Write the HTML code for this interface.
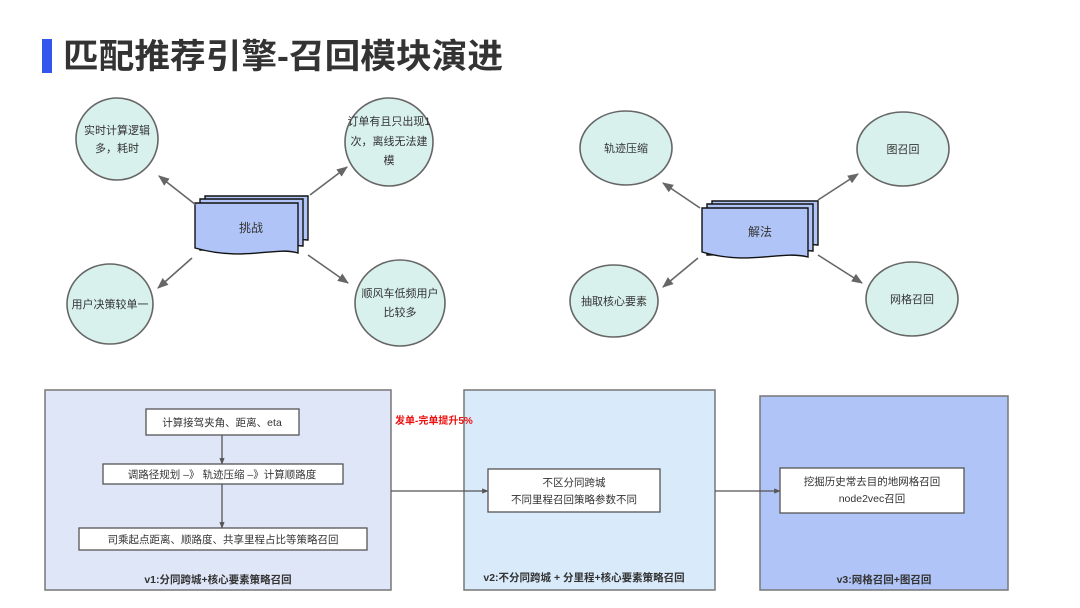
<!DOCTYPE html>
<html><head><meta charset="utf-8"><style>
html,body{margin:0;padding:0;background:#fff;}
svg{display:block;}
text{font-family:"Liberation Sans","Noto Sans CJK SC",sans-serif;}
</style></head><body>
<svg width="1080" height="608" viewBox="0 0 1080 608" xmlns="http://www.w3.org/2000/svg">
<defs>
<marker id="a" viewBox="0 0 10 10" refX="9" refY="5" markerWidth="7" markerHeight="7" orient="auto"><path d="M0,1 L10,5 L0,9 z" fill="#666"/></marker>
<marker id="b" viewBox="0 0 10 10" refX="9" refY="5" markerWidth="5" markerHeight="5" orient="auto"><path d="M0,1 L10,5 L0,9 z" fill="#555"/></marker>
</defs>
<rect x="42" y="39" width="10" height="34" fill="#3355ee"/>
<text x="63" y="68" font-size="34" font-weight="bold" fill="#333" textLength="440" lengthAdjust="spacingAndGlyphs">匹配推荐引擎-召回模块演进</text>

<g stroke="#666" stroke-width="1.6" fill="#d8f1ec">
<ellipse cx="117" cy="139" rx="41" ry="41"/>
<ellipse cx="389" cy="142" rx="44" ry="44"/>
<ellipse cx="110" cy="304" rx="43" ry="40"/>
<ellipse cx="400" cy="303" rx="45" ry="43"/>
<ellipse cx="626" cy="148" rx="46" ry="37"/>
<ellipse cx="903" cy="149" rx="46" ry="37"/>
<ellipse cx="614" cy="301" rx="44" ry="36"/>
<ellipse cx="912" cy="299" rx="46" ry="37"/>
</g>
<g font-size="11" fill="#333" text-anchor="middle">
<text x="117" y="134">实时计算逻辑</text><text x="117" y="152">多，耗时</text>
<text x="389" y="125">订单有且只出现1</text><text x="389" y="145">次，离线无法建</text><text x="389" y="164">模</text>
<text x="110" y="308">用户决策较单一</text>
<text x="400" y="297">顺风车低频用户</text><text x="400" y="316">比较多</text>
<text x="626" y="152">轨迹压缩</text>
<text x="903" y="153">图召回</text>
<text x="614" y="305">抽取核心要素</text>
<text x="912" y="303">网格召回</text>
</g>

<g stroke="#111" stroke-width="1.4" fill="#b0c4f7">
<path d="M205,196 H308 V240 C290,238 270,243 205,244 z"/>
<path d="M200,199 H303 V246 C285,244 265,249 200,250 z"/>
<path d="M195,203 H298 V253 C275,246 245,262 195,248 z"/>
<path d="M712,201 H818 V245 C800,243 780,248 712,249 z"/>
<path d="M707,204 H813 V251 C795,249 775,254 707,255 z"/>
<path d="M702,208 H808 V257 C780,250 750,266 702,252 z"/>
</g>
<text x="251" y="232" font-size="12" fill="#333" text-anchor="middle">挑战</text>
<text x="760" y="236" font-size="12" fill="#333" text-anchor="middle">解法</text>

<g stroke="#666" stroke-width="1.6" marker-end="url(#a)">
<line x1="196" y1="205" x2="159" y2="176"/>
<line x1="310" y1="195" x2="347" y2="167"/>
<line x1="192" y1="258" x2="158" y2="288"/>
<line x1="308" y1="255" x2="348" y2="283"/>
<line x1="700" y1="208" x2="663" y2="183"/>
<line x1="818" y1="200" x2="858" y2="174"/>
<line x1="698" y1="258" x2="663" y2="287"/>
<line x1="818" y1="255" x2="862" y2="283"/>
</g>

<g stroke="#777" stroke-width="1.5">
<rect x="45" y="390" width="346" height="200" fill="#dfe6f8"/>
<rect x="464" y="390" width="251" height="200" fill="#d9eafa"/>
<rect x="760" y="396" width="248" height="194" fill="#b0c4f7"/>
</g>
<g stroke="#555" stroke-width="1.3" fill="#fff">
<rect x="146" y="409" width="153" height="26"/>
<rect x="103" y="464" width="240" height="20"/>
<rect x="79" y="528" width="288" height="22"/>
<rect x="488" y="469" width="172" height="43"/>
<rect x="780" y="468" width="184" height="45"/>
</g>
<g stroke="#555" stroke-width="1.3" marker-end="url(#b)">
<line x1="222" y1="435" x2="222" y2="464"/>
<line x1="222" y1="484" x2="222" y2="528"/>
<line x1="391" y1="491" x2="488" y2="491"/>
<line x1="715" y1="491" x2="780" y2="491"/>
</g>
<g font-size="10.5" fill="#333" text-anchor="middle">
<text x="222" y="426">计算接驾夹角、距离、eta</text>
<text x="222" y="478">调路径规划 –》 轨迹压缩 –》计算顺路度</text>
<text x="223" y="543">司乘起点距离、顺路度、共享里程占比等策略召回</text>
<text x="574" y="486">不区分同跨城</text>
<text x="574" y="503">不同里程召回策略参数不同</text>
<text x="872" y="485">挖掘历史常去目的地网格召回</text>
<text x="872" y="502">node2vec召回</text>
</g>
<g font-size="10.5" font-weight="bold" fill="#333" text-anchor="middle">
<text x="218" y="583">v1:分同跨城+核心要素策略召回</text>
<text x="584" y="581">v2:不分同跨城 + 分里程+核心要素策略召回</text>
<text x="884" y="583">v3:网格召回+图召回</text>
</g>
<text x="395" y="424" font-size="10" font-weight="bold" fill="#ee1111">发单-完单提升5%</text>
</svg>
</body></html>
